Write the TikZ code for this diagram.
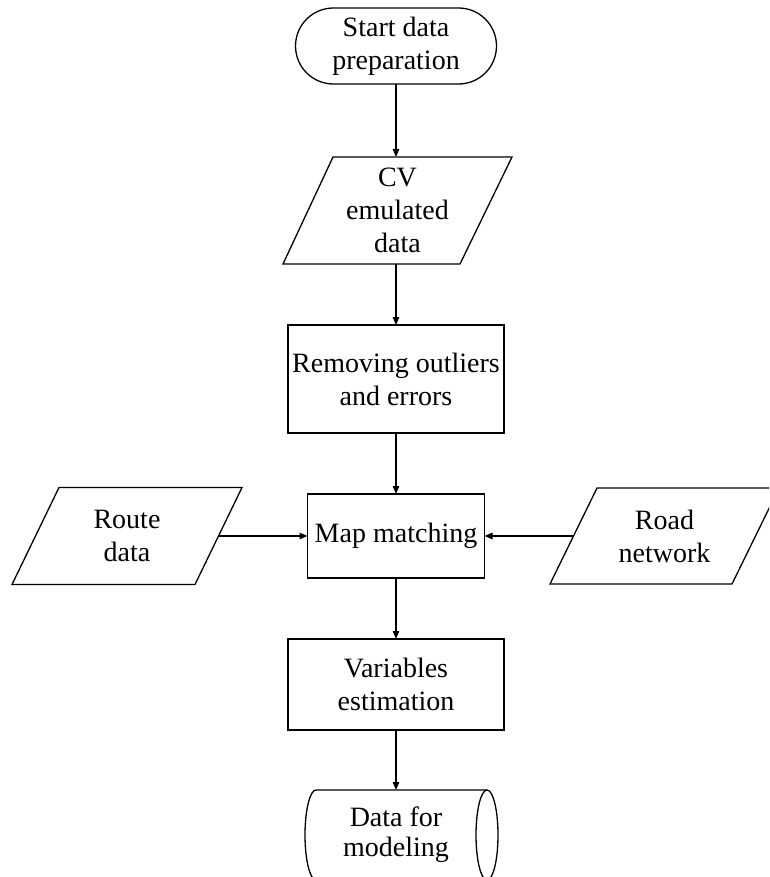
\documentclass[tikz,border=0pt]{standalone}
\usepackage{fontspec}
\setmainfont{Liberation Serif}
\usetikzlibrary{arrows.meta}
\begin{document}
\begin{tikzpicture}[x=1pt,y=-1pt,
  every node/.style={font=\fontsize{28}{33}\selectfont, align=center, inner sep=0pt, outer sep=0pt},
  ln/.style={draw=black, line width=1.3pt},
  procbox/.style={ln, minimum width=#1},
  arr/.style={draw=black, line width=1.3pt, -{Triangle[length=8pt,width=6.5pt]}}
]
\path[use as bounding box, clip] (0,0) rectangle (769,877);
\fill[white] (0,0) rectangle (769,877);

% start terminal
\node[ln, rounded corners=38pt, minimum width=201pt, minimum height=76pt] (start) at (396,46) {Start data\\preparation};

% CV parallelogram
\node[minimum width=229pt, minimum height=107pt] (cv) at (397.5,210.5) {CV\\emulated\\data};
\draw[ln] ([xshift=50pt]cv.north west) -- (cv.north east) -- ([xshift=-52pt]cv.south east) -- (cv.south west) -- cycle;

% process boxes
\node[procbox=216pt, minimum height=108pt] (rem) at (396,379) {Removing outliers\\and errors};
\node[procbox=177pt, minimum height=84pt] (map) at (396,536) {Map matching};
\node[procbox=216pt, minimum height=91pt] (var) at (396,684.5) {Variables\\estimation};

% side inputs
\node[minimum width=230pt, minimum height=97pt] (route) at (127,536) {Route\\data};
\draw[ln] ([xshift=47pt]route.north west) -- (route.north east) -- ([xshift=-47pt]route.south east) -- (route.south west) -- cycle;
\node[minimum width=229pt, minimum height=96pt] (road) at (664.5,536) {Road\\network};
\draw[ln] ([xshift=47pt]road.north west) -- (road.north east) -- ([xshift=-47pt]road.south east) -- (road.south west) -- cycle;

% storage cylinder
\node[minimum width=182pt, minimum height=90pt, font=\fontsize{28}{30}\selectfont] (cyl) at (396,835)
  {\raisebox{-4pt}{\begin{tabular}{@{}c@{}}Data for\\modeling\end{tabular}}};
\draw[ln] ([xshift=11pt]cyl.south west) -- (cyl.south east);
\draw[ln] (cyl.north east) -- ([xshift=11pt]cyl.north west)
  .. controls ([xshift=5pt]cyl.north west) and ([yshift=25pt]cyl.west) .. (cyl.west)
  .. controls ([yshift=-25pt]cyl.west) and ([xshift=5pt]cyl.south west) .. ([xshift=11pt]cyl.south west);
\draw[ln] (cyl.east) ellipse [x radius=11pt, y radius=45pt];

% connectors
\draw[arr] (start.south) -- (start.south |- cv.north);
\draw[arr] (start.south |- cv.south) -- (rem.north);
\draw[arr] (rem.south) -- (map.north);
\draw[arr] ([xshift=-23.5pt]route.east) -- (map.west);
\draw[arr] ([xshift=23.5pt]road.west) -- (map.east);
\draw[arr] (map.south) -- (var.north);
\draw[arr] (var.south) -- (cyl.north);
\end{tikzpicture}
\end{document}
